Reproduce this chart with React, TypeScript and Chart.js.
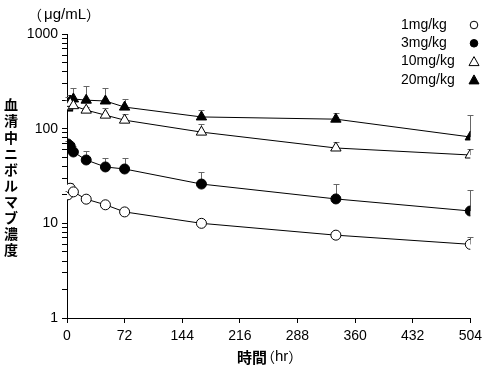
import React, { useEffect, useRef } from "react";
import { Chart, registerables } from "chart.js";

Chart.register(...registerables);

const times = [1, 4, 8, 24, 48, 72, 168, 336, 504];
const doseLabels = ["1mg/kg", "3mg/kg", "10mg/kg", "20mg/kg"];
const dose1Mean = [20, 23.5, 21.5, 18, 15.7, 13.2, 10, 7.5, 6];
const dose1Upper = [22, 26.5, 23, 19, 16.8, 14.5, 11.1, 7.8, 7.2];
const dose3Mean = [69, 65.6, 56.7, 46.7, 39.4, 37.5, 26, 18.1, 13.5];
const dose3Upper = [74, 70, 65.6, 57.5, 49, 49, 34.8, 26, 22.5];
const dose10Mean = [170, 185, 175, 157, 139, 123, 92, 62.5, 52.7];
const dose10Upper = [200, 205, 195, 170, 165, 143, 111, 72, 61];
const dose20Mean = [165, 196, 206, 200, 196, 169, 133, 126, 81.7];
const dose20Upper = [214, 226, 269, 282, 269, 206, 157, 146, 139];
const xTicks = [0, 72, 144, 216, 288, 360, 432, 504];
const yMajor = [1, 10, 100, 1000];
const yUnit = "μg/mL";
const xTitleMain = "時間";
const xTitleUnit = "hr";
const yTitle = "血清中ニボルマブ濃度";

const means = [dose1Mean, dose3Mean, dose10Mean, dose20Mean];
const uppers = [dose1Upper, dose3Upper, dose10Upper, dose20Upper];
const styles = [
  { shape: "circle", fill: "#fff", r: 5 },
  { shape: "circle", fill: "#000", r: 5 },
  { shape: "triangle", fill: "#fff", r: 6 },
  { shape: "triangle", fill: "#000", r: 6 },
];

const LATIN = "'Liberation Sans', Arial, sans-serif";
const CJK = "'Noto Sans CJK JP', sans-serif";

type Piece = { t: string; f: string; dx?: number; after?: number };

function drawPieces(ctx: any, pieces: Piece[], x: number, y: number) {
  let cx = x;
  ctx.textAlign = "left";
  pieces.forEach((p) => {
    ctx.font = p.f;
    cx += p.dx || 0;
    ctx.fillText(p.t, cx, y);
    cx += ctx.measureText(p.t).width + (p.after || 0);
  });
}

const overlayPlugin = {
  id: "overlay",
  beforeDatasetsDraw(chart: any) {
    const ctx = chart.ctx;
    const xs = chart.scales.x;
    const ys = chart.scales.y;
    ctx.save();
    ctx.strokeStyle = "#666";
    ctx.lineWidth = 1;
    uppers.forEach((up, di) => {
      up.forEach((u, i) => {
        const px = Math.round(xs.getPixelForValue(times[i])) + 0.5;
        const py = ys.getPixelForValue(means[di][i]);
        const pu = Math.round(ys.getPixelForValue(u)) + 0.5;
        ctx.beginPath();
        ctx.moveTo(px, py);
        ctx.lineTo(px, pu);
        ctx.moveTo(px - 3, pu);
        ctx.lineTo(px + 3, pu);
        ctx.stroke();
      });
    });
    ctx.restore();
  },
  afterDraw(chart: any) {
    const ctx = chart.ctx;
    ctx.save();
    ctx.fillStyle = "#000";
    ctx.textBaseline = "middle";
    // unit label
    drawPieces(
      ctx,
      [
        { t: "（", f: `14px ${CJK}`, after: 2 },
        { t: yUnit, f: `15px ${LATIN}` },
        { t: "）", f: `14px ${CJK}` },
      ],
      28,
      15
    );
    // x title
    drawPieces(
      ctx,
      [
        { t: xTitleMain, f: `bold 15px ${CJK}` },
        { t: "（", f: `14px ${CJK}`, dx: -6 },
        { t: xTitleUnit, f: `15px ${LATIN}` },
        { t: "）", f: `14px ${CJK}` },
      ],
      237,
      357
    );
    // y title vertical
    ctx.font = `bold 14px ${CJK}`;
    ctx.textAlign = "center";
    Array.from(yTitle).forEach((ch, i) => {
      ctx.fillText(ch, 11, 105 + i * 16.1);
    });
    // legend
    ctx.font = `14px ${LATIN}`;
    ctx.textAlign = "left";
    doseLabels.forEach((lab, i) => {
      const y = 25 + i * 18.3;
      ctx.fillStyle = "#000";
      ctx.fillText(lab, 401, y);
      const st = styles[i];
      const mx = 474;
      ctx.beginPath();
      if (st.shape === "circle") {
        ctx.arc(mx, y, 3.8, 0, Math.PI * 2);
      } else {
        ctx.moveTo(mx, y - 5);
        ctx.lineTo(mx + 5, y + 4);
        ctx.lineTo(mx - 5, y + 4);
        ctx.closePath();
      }
      ctx.fillStyle = st.fill;
      ctx.fill();
      ctx.strokeStyle = "#000";
      ctx.lineWidth = 1;
      ctx.stroke();
    });
    ctx.restore();
  },
};

export default function App() {
  const ref = useRef<HTMLCanvasElement>(null);
  useEffect(() => {
    if (!ref.current) return;
    const datasets = means.map((m, di) => ({
      label: doseLabels[di],
      data: m.map((v, i) => ({ x: times[i], y: v })),
      borderColor: "#000",
      borderWidth: 1,
      tension: 0,
      pointStyle: styles[di].shape,
      pointRadius: styles[di].r,
      pointBackgroundColor: styles[di].fill,
      pointBorderColor: "#000",
      pointBorderWidth: 1,
      fill: false,
    }));
    const chart = new Chart(ref.current, {
      type: "line",
      data: { datasets },
      plugins: [overlayPlugin],
      options: {
        animation: false,
        responsive: false,
        layout: { padding: { left: 0, top: 34, right: 15, bottom: 0 } },
        plugins: { legend: { display: false }, tooltip: { enabled: false } },
        scales: {
          x: {
            type: "linear",
            min: 0,
            max: 504,
            afterBuildTicks: (s: any) => {
              s.ticks = xTicks.map((v) => ({ value: v }));
            },
            afterFit: (s: any) => {
              s.height = 56;
            },
            ticks: {
              color: "#000",
              font: { family: LATIN, size: 14 },
              padding: 5,
              maxRotation: 0,
              autoSkip: false,
              callback: (v: any) => String(v),
            },
            grid: { drawOnChartArea: false, drawTicks: true, tickLength: 5, color: "#000" },
            border: { display: true, color: "#000", width: 1 },
          },
          y: {
            type: "logarithmic",
            min: 1,
            max: 1000,
            afterBuildTicks: (s: any) => {
              const t: any[] = [];
              for (let d = 0; d < yMajor.length - 1; d++) {
                for (let k = 1; k < 10; k++) t.push({ value: yMajor[d] * k, major: k === 1 });
              }
              t.push({ value: yMajor[yMajor.length - 1], major: true });
              s.ticks = t;
            },
            afterFit: (s: any) => {
              s.width = 67;
            },
            ticks: {
              color: "#000",
              font: { family: LATIN, size: 14 },
              padding: 4,
              autoSkip: false,
              callback: (v: any) => (yMajor.includes(Number(v)) ? String(v) : ""),
            },
            grid: { drawOnChartArea: false, drawTicks: true, tickLength: 5, color: "#000" },
            border: { display: true, color: "#000", width: 1 },
          },
        },
      },
    });
    return () => chart.destroy();
  }, []);
  return (
    <div style={{ position: "absolute", left: 0, top: 0, width: 487, height: 374, background: "#fff" }}>
      <canvas ref={ref} width={487} height={374} style={{ width: 487, height: 374 }} />
    </div>
  );
}
